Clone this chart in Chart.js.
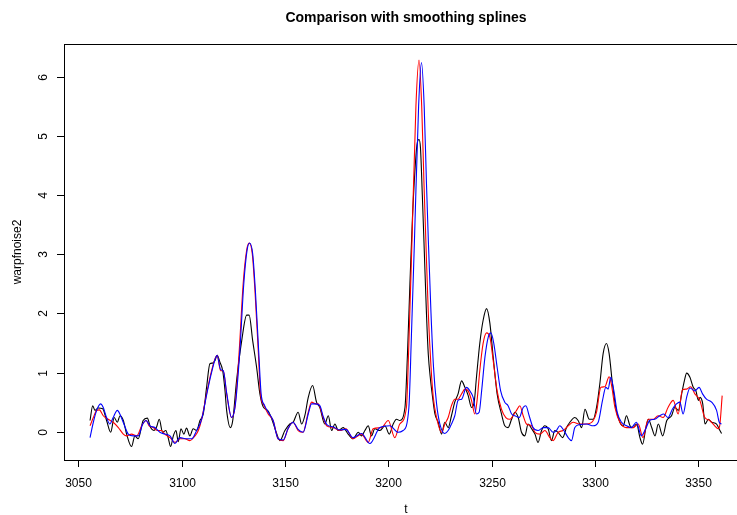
<!DOCTYPE html>
<html>
<head>
<meta charset="utf-8">
<script src="https://cdn.jsdelivr.net/npm/chart.js@4/dist/chart.umd.min.js"></script>
<style>
  html, body { margin: 0; padding: 0; background: #fff; overflow: hidden; width: 737px; height: 515px; }
  canvas { display: block; }
</style>
</head>
<body>
<canvas id="chart" width="760" height="515"></canvas>
<script>
const xTicks = [3050, 3100, 3150, 3200, 3250, 3300, 3350];
const yTicks = [0, 1, 2, 3, 4, 5, 6];

// warpfnoise2 (black)
const blackT = [3055.7,3057.0,3058.1,3059.7,3061.8,3063.7,3065.7,3067.4,3068.9,3070.2,3071.8,3073.4,3075.8,3077.4,3079.0,
  3081.4,3083.4,3085.0,3086.6,3087.9,3089.2,3090.8,3092.4,3093.5,3094.7,3096.0,3097.3,3098.4,3099.7,3101.1,3102.4,3104.0,
  3105.6,3107.3,3108.9,3110.5,3112.1,3113.7,3115.0,3116.1,3117.2,3118.6,3119.9,3121.0,3121.8,3123.6,3124.8,3126.6,3129.1,
  3131.5,3132.7,3134.4,3136.3,3137.9,3139.5,3141.9,3143.6,3146.0,3147.6,3150.0,3152.4,3154.0,3156.4,3158.1,3159.7,3161.3,
  3163.4,3165.3,3166.9,3169.3,3171.0,3172.6,3174.2,3175.8,3178.2,3180.6,3183.0,3185.5,3187.1,3188.7,3190.3,3191.9,3193.5,
  3196.0,3198.4,3200.5,3202.4,3204.0,3205.6,3208.1,3209.3,3210.5,3211.7,3212.9,3213.9,3214.9,3215.6,3216.5,3217.5,3218.5,
  3219.4,3220.4,3221.4,3222.6,3224.2,3225.8,3227.4,3229.0,3230.6,3232.2,3233.8,3235.5,3237.1,3238.7,3240.3,3241.6,3242.7,
  3244.3,3245.9,3247.6,3249.2,3250.8,3252.7,3254.8,3256.4,3258.0,3259.7,3261.3,3262.9,3264.5,3266.1,3267.7,3269.4,3271.0,
  3272.5,3274.2,3275.8,3277.4,3279.0,3280.6,3282.2,3284.4,3286.3,3287.9,3290.3,3291.9,3293.6,3295.2,3297.3,3299.2,3300.8,
  3302.4,3304.0,3305.6,3306.9,3308.5,3310.1,3312.1,3313.7,3315.3,3317.0,3318.5,3320.2,3321.8,3323.1,3324.7,3325.9,3327.5,
  3329.1,3330.7,3332.8,3334.8,3337.1,3338.7,3340.4,3342.0,3343.3,3344.4,3346.0,3347.6,3348.9,3350.1,3350.9,3352.2,3353.3,
  3354.9,3356.5,3358.9,3360.5,3361.3];
const blackY = [0.19,0.44,0.36,0.40,0.39,0.19,-0.01,0.24,0.16,0.27,0.19,-0.04,-0.25,-0.07,-0.12,
  0.19,0.23,0.07,0.02,0.08,0.21,-0.01,0.02,-0.10,-0.25,-0.07,0.02,-0.17,0.05,-0.04,0.06,-0.07,
  0.05,0.02,0.19,0.30,0.75,1.15,1.16,1.20,1.29,1.17,1.03,0.70,0.36,0.07,0.20,0.86,1.54,
  1.97,1.97,1.54,1.09,0.64,0.42,0.35,0.22,-0.03,-0.15,0.02,0.13,0.16,0.33,0.13,0.28,0.58,
  0.78,0.50,0.41,0.13,0.27,0.02,0.13,0.02,0.07,-0.04,-0.12,-0.01,-0.07,0.02,0.10,-0.07,0.05,
  0.02,0.10,-0.04,0.13,0.21,0.19,0.41,1.30,2.50,3.60,4.40,4.85,4.94,4.80,4.00,3.00,2.00,
  1.30,0.90,0.60,0.30,0.16,-0.04,0.16,0.07,0.27,0.50,0.64,0.86,0.75,0.61,0.41,0.50,0.92,
  1.49,1.88,2.08,1.83,1.26,0.64,0.30,0.10,0.07,0.21,0.33,0.24,-0.01,-0.07,0.13,0.05,-0.04,
  -0.18,0.02,0.10,0.05,-0.15,0.02,-0.01,-0.10,0.07,0.16,0.24,0.19,0.07,0.38,0.21,0.21,0.41,
  0.81,1.32,1.49,1.32,0.81,0.41,0.16,0.10,0.27,0.10,0.07,0.13,-0.10,-0.21,0.07,0.21,0.07,
  -0.07,0.13,-0.07,0.19,0.27,0.41,0.36,0.64,0.86,0.99,0.92,0.75,0.69,0.53,0.58,0.47,0.13,
  0.21,0.16,0.13,0.02,-0.03];

// smoothing spline fit (red)
const redT = [3055.7,3057.3,3058.9,3060.2,3062.1,3064.5,3066.9,3069.4,3071.8,3073.4,3075.8,3078.3,3080.7,3082.8,3084.3,
  3086.3,3088.2,3090.3,3091.9,3094.4,3096.8,3099.2,3101.6,3104.0,3106.5,3108.1,3109.7,3112.1,3114.5,3117.2,3118.9,3120.2,
  3121.8,3124.2,3125.8,3127.9,3129.8,3131.5,3132.7,3134.2,3135.5,3137.1,3138.2,3139.8,3141.9,3144.3,3146.7,3149.2,3151.5,
  3153.9,3156.4,3158.8,3161.3,3162.9,3164.9,3166.1,3168.5,3170.2,3173.4,3176.6,3179.5,3183.0,3187.1,3190.3,3192.7,3196.8,
  3200.0,3203.2,3205.6,3208.8,3210.0,3211.5,3213.4,3214.9,3216.2,3217.3,3218.2,3219.4,3220.7,3221.8,3223.4,3225.8,3227.4,
  3229.0,3230.6,3232.2,3233.8,3235.5,3237.1,3238.7,3240.3,3241.9,3243.0,3244.3,3245.9,3247.6,3249.2,3250.8,3252.7,3254.8,
  3256.9,3258.9,3260.4,3262.1,3263.7,3265.3,3266.9,3269.4,3271.0,3273.4,3275.8,3278.2,3279.8,3282.2,3284.6,3287.1,3289.5,
  3292.7,3296.0,3299.2,3300.8,3302.9,3304.8,3306.9,3308.1,3309.7,3312.1,3315.3,3318.5,3321.0,3323.3,3325.8,3328.2,3330.6,
  3333.0,3335.4,3337.9,3340.3,3342.4,3344.4,3346.3,3348.4,3350.8,3353.2,3355.6,3358.0,3359.6,3360.4,3361.6];
const redY = [0.10,0.24,0.36,0.37,0.27,0.21,0.16,0.07,-0.04,-0.07,-0.04,-0.07,0.10,0.19,0.10,
  0.07,0.02,0.02,-0.04,-0.10,-0.18,-0.12,-0.12,-0.15,-0.07,0.02,0.21,0.64,1.03,1.29,1.03,1.03,
  0.64,0.24,0.41,1.37,2.50,3.07,3.19,3.01,2.39,1.37,0.64,0.45,0.30,0.19,-0.12,-0.15,0.05,
  0.16,0.02,-0.01,0.33,0.50,0.47,0.47,0.24,0.10,0.07,0.02,0.05,-0.12,-0.04,-0.18,0.05,0.07,
  0.19,-0.10,0.13,0.41,1.50,3.24,5.50,6.28,5.50,4.20,3.24,2.00,1.10,0.58,0.24,-0.01,0.13,
  0.24,0.44,0.55,0.55,0.64,0.72,0.69,0.53,0.30,0.53,1.03,1.49,1.67,1.60,1.20,0.69,0.38,
  0.24,0.21,0.27,0.36,0.44,0.27,0.13,0.10,-0.01,-0.04,0.02,-0.10,-0.15,-0.01,0.02,0.10,0.16,
  0.13,0.13,0.19,0.33,0.75,0.76,0.93,0.78,0.41,0.16,0.07,0.07,0.13,-0.10,0.21,0.21,0.27,
  0.24,0.41,0.53,0.30,0.71,0.72,0.76,0.64,0.53,0.24,0.19,0.10,0.05,0.10,0.61];

// smoothing spline fit (blue)
const blueT = [3055.7,3057.3,3058.9,3060.8,3062.1,3063.7,3065.3,3066.9,3068.9,3070.5,3072.1,3074.2,3076.6,3079.0,3081.2,
  3082.8,3084.7,3087.1,3089.5,3091.9,3094.4,3096.8,3099.2,3102.4,3104.9,3107.3,3109.7,3112.1,3114.5,3117.2,3118.9,3120.2,
  3121.8,3124.2,3126.0,3128.2,3130.1,3131.7,3132.9,3134.4,3135.7,3137.3,3138.5,3140.1,3142.1,3144.3,3146.7,3149.2,3151.5,
  3153.9,3156.4,3158.8,3161.3,3162.9,3164.9,3166.9,3168.5,3170.3,3173.4,3176.6,3179.5,3183.0,3187.1,3191.1,3196.0,3200.8,
  3204.8,3207.2,3210.0,3211.2,3212.7,3214.7,3216.1,3217.4,3218.5,3219.4,3220.7,3221.9,3223.4,3225.0,3227.4,3229.0,3230.6,
  3232.2,3233.8,3235.5,3237.9,3239.5,3241.1,3242.7,3244.0,3245.2,3246.8,3248.4,3249.7,3251.1,3252.7,3254.4,3256.4,3258.0,
  3259.7,3261.3,3263.4,3265.3,3266.6,3268.2,3270.1,3272.5,3275.0,3277.4,3279.8,3281.4,3283.0,3285.0,3287.1,3288.7,3290.3,
  3292.7,3296.0,3299.2,3301.6,3303.7,3305.3,3306.4,3307.7,3309.2,3310.8,3312.9,3315.3,3317.7,3320.1,3322.5,3324.6,3326.5,
  3328.9,3331.4,3333.3,3335.4,3337.5,3339.5,3341.1,3342.7,3344.4,3346.0,3348.4,3350.4,3352.1,3354.0,3356.5,3358.9,3360.2,
  3361.3];
const blueY = [-0.10,0.16,0.36,0.47,0.41,0.24,0.13,0.24,0.36,0.27,0.13,-0.04,-0.07,-0.07,0.13,
  0.19,0.10,0.07,-0.01,-0.04,-0.07,-0.20,-0.10,-0.12,-0.12,0.02,0.21,0.62,1.00,1.29,1.05,1.03,
  0.66,0.24,0.45,1.37,2.50,3.07,3.19,3.01,2.39,1.37,0.64,0.45,0.32,0.19,-0.12,-0.14,0.05,
  0.16,0.04,-0.01,0.30,0.47,0.47,0.44,0.26,0.12,0.08,0.03,0.04,-0.10,-0.03,-0.20,0.07,0.10,
  -0.01,0.02,0.41,1.60,3.24,5.50,6.24,5.50,4.20,3.24,2.00,1.10,0.47,0.13,-0.03,0.02,0.13,
  0.27,0.53,0.55,0.75,0.69,0.58,0.30,0.33,0.69,1.26,1.60,1.67,1.49,1.09,0.69,0.50,0.44,
  0.30,0.27,0.24,0.41,0.44,0.27,0.07,0.02,0.07,0.07,-0.01,0.02,0.10,0.02,-0.10,-0.15,0.07,
  0.12,0.13,0.10,0.16,0.53,0.75,0.72,0.92,0.69,0.33,0.16,0.10,0.07,0.16,-0.07,0.05,0.19,
  0.21,0.27,0.30,0.24,0.38,0.47,0.50,0.30,0.58,0.74,0.69,0.75,0.64,0.55,0.50,0.36,0.16,
  0.13];

const pts = (ts, ys) => ts.map((t, i) => ({ x: t, y: ys[i] }));

const FONT = '"Liberation Sans", Arial, Helvetica, sans-serif';

// R-style frame, ticks and labels, placed through the chart's scales
const rAxes = {
  id: 'rAxes',
  afterDraw(chart) {
    const { ctx, chartArea: a, scales: { x, y } } = chart;
    ctx.save();
    ctx.strokeStyle = '#000';
    ctx.fillStyle = '#000';
    ctx.lineWidth = 1;
    ctx.strokeRect(a.left + 0.5, a.top + 0.5, a.right - a.left, a.bottom - a.top);

    ctx.font = '12px ' + FONT;
    ctx.textAlign = 'center';
    ctx.textBaseline = 'alphabetic';
    xTicks.forEach(v => {
      const px = Math.round(x.getPixelForValue(v)) + 0.5;
      ctx.beginPath();
      ctx.moveTo(px, a.bottom);
      ctx.lineTo(px, a.bottom + 7);
      ctx.stroke();
      ctx.fillText(String(v), px, a.bottom + 27);
    });
    yTicks.forEach(v => {
      const py = Math.round(y.getPixelForValue(v)) + 0.5;
      ctx.beginPath();
      ctx.moveTo(a.left, py);
      ctx.lineTo(a.left - 7, py);
      ctx.stroke();
      ctx.save();
      ctx.translate(a.left - 17, py);
      ctx.rotate(-Math.PI / 2);
      ctx.fillText(String(v), 0, 0);
      ctx.restore();
    });

    const cx = (a.left + a.right) / 2;
    ctx.fillText('t', cx, 513);
    ctx.save();
    ctx.translate(21, (a.top + a.bottom) / 2);
    ctx.rotate(-Math.PI / 2);
    ctx.fillText('warpfnoise2', 0, 0);
    ctx.restore();

    ctx.font = 'bold 14px ' + FONT;
    ctx.fillText('Comparison with smoothing splines', cx, 22);
    ctx.restore();
  }
};

new Chart(document.getElementById('chart'), {
  type: 'line',
  data: {
    datasets: [
      { label: 'warpfnoise2', data: pts(blackT, blackY), borderColor: '#000000', order: 3 },
      { label: 'spline 1', data: pts(redT, redY), borderColor: '#ff0000', order: 2 },
      { label: 'spline 2', data: pts(blueT, blueY), borderColor: '#0000ff', order: 1 }
    ]
  },
  options: {
    responsive: false,
    animation: false,
    devicePixelRatio: 1,
    layout: { padding: { left: 64, top: 44, right: 12, bottom: 55 } },
    elements: {
      line: { borderWidth: 1.1, fill: false, cubicInterpolationMode: 'monotone' },
      point: { radius: 0, hoverRadius: 0 }
    },
    scales: {
      x: { type: 'linear', min: 3043.1, max: 3374.1, display: false },
      y: { type: 'linear', min: -0.478, max: 6.553, display: false }
    },
    plugins: { legend: { display: false }, tooltip: { enabled: false }, title: { display: false } }
  },
  plugins: [rAxes]
});
</script>
</body>
</html>
